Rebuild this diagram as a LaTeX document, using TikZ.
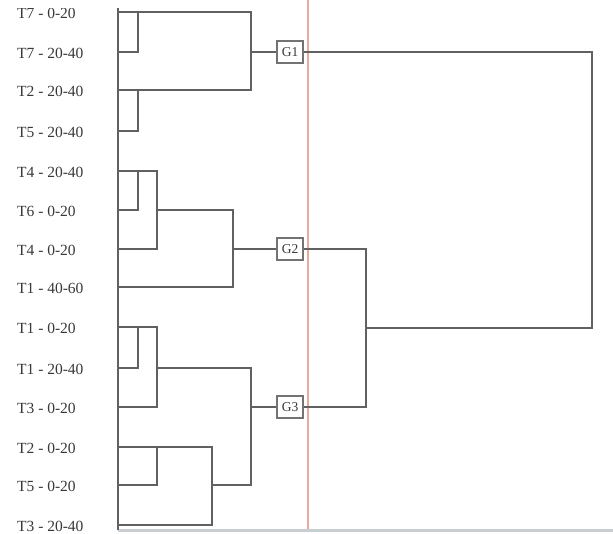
\documentclass[tikz,border=0pt]{standalone}
\usepackage{fontspec}
\setmainfont{Liberation Serif}
\begin{document}
\begin{tikzpicture}[x=1pt,y=-1pt,
  dend/.style={draw=black!62, line width=1.3pt},
  lab/.style={anchor=west, inner sep=0pt, text=black!78, font=\fontsize{15.5}{17}\selectfont},
  grp/.style={draw=black!55, fill=white, line width=1.1pt, minimum width=26pt, minimum height=22pt, inner sep=0pt, text=black!78, font=\fontsize{13.5}{15}\selectfont}]
\useasboundingbox (0,0) rectangle (613,533);
% reference lines
\draw[draw={rgb,255:red,232;green,170;blue,155}, line width=1.5pt] (308,0) -- (308,530);
\draw[draw={rgb,255:red,200;green,205;blue,210}, line width=3pt] (118,530) -- (613,530);
\draw[dend] (118,8) -- (118,530);
% leaves
\foreach \n/\y/\t in {1/12/T7 - 0-20, 2/52/T7 - 20-40, 3/90/T2 - 20-40, 4/131/T5 - 20-40,
  5/171/T4 - 20-40, 6/210/T6 - 0-20, 7/249/T4 - 0-20, 8/287/T1 - 40-60,
  9/327/T1 - 0-20, 10/368/T1 - 20-40, 11/407/T3 - 0-20, 12/447/T2 - 0-20,
  13/485/T5 - 0-20, 14/525/T3 - 20-40}{
  \coordinate (L\n) at (118,\y);
  \node[lab] (t\n) at (17,\y+1) {\t};
}
% the reference is cropped just above the first label
\fill[white] (0,0) rectangle (300,7.5);
% group boxes
\node[grp] (G1) at (290,52) {G1};
\node[grp] (G2) at (290,249) {G2};
\node[grp] (G3) at (290,407) {G3};
% junction coordinates
\coordinate (a1) at (138,12);
\coordinate (a2) at (138,90);
\coordinate (b1) at (251,12);
\coordinate (b2) at (251,90);
\coordinate (b3) at (251,52);
\coordinate (c1) at (138,171);
\coordinate (c2) at (157,171);
\coordinate (c3) at (157,249);
\coordinate (c4) at (157,210);
\coordinate (c5) at (233,210);
\coordinate (c6) at (233,287);
\coordinate (c7) at (233,249);
\coordinate (d1) at (138,327);
\coordinate (d2) at (157,327);
\coordinate (d3) at (157,407);
\coordinate (d4) at (157,368);
\coordinate (d5) at (251,368);
\coordinate (d6) at (251,485);
\coordinate (d7) at (212,485);
\coordinate (d8) at (212,447);
\coordinate (d9) at (212,525);
\coordinate (d10) at (157,447);
\coordinate (d11) at (251,407);
\coordinate (e1) at (592,52);
\coordinate (e2) at (592,328);
\coordinate (e3) at (366,328);
\coordinate (e4) at (366,249);
\coordinate (e5) at (366,407);
% cluster 1
\draw[dend] (L2) -| (a1);
\draw[dend] (L4) -| (a2);
\draw[dend] (L1) -- (b1) -- (b2) -- (L3);
\draw[dend] (b3) -- (G1.west);
% cluster 2
\draw[dend] (L6) -| (c1);
\draw[dend] (L5) -- (c2) -- (c3) -- (L7);
\draw[dend] (c4) -- (c5) -- (c6) -- (L8);
\draw[dend] (c7) -- (G2.west);
% cluster 3
\draw[dend] (L10) -| (d1);
\draw[dend] (L9) -- (d2) -- (d3) -- (L11);
\draw[dend] (d4) -- (d5) -- (d6) -- (d7);
\draw[dend] (L12) -- (d8) -- (d9) -- (L14);
\draw[dend] (L13) -| (d10);
\draw[dend] (d11) -- (G3.west);
% top level
\draw[dend] (G1.east) -- (e1) -- (e2) -- (e3);
\draw[dend] (G2.east) -- (e4) -- (e5) -- (G3.east);
\end{tikzpicture}
\end{document}
